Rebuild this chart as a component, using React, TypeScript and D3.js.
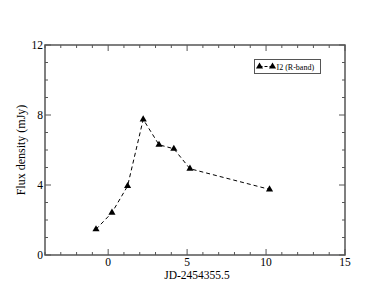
import React, { useEffect, useRef } from 'react';
import * as d3 from 'd3';

const jd = [-0.77, 0.24, 1.23, 2.22, 3.22, 4.16, 5.18, 10.22];
const flux = [1.47, 2.42, 3.94, 7.75, 6.3, 6.07, 4.93, 3.75];
const xTicks = [0, 5, 10, 15];
const yTicks = [0, 4, 8, 12];
const seriesName = 'I2 (R-band)';

export default function App() {
  const ref = useRef<SVGSVGElement>(null);

  useEffect(() => {
    const svg = d3.select(ref.current);
    svg.selectAll('*').remove();

    const left = 45, right = 345, top = 45, bottom = 255;
    const x = d3.scaleLinear().domain([-4, 15]).range([left, right]);
    const y = d3.scaleLinear().domain([0, 12]).range([bottom, top]);
    const frame = '#555';

    const g = svg.append('g').style('font-family', "'Times New Roman', 'Liberation Serif', serif");

    // minor + major ticks, inward on all four sides
    d3.range(-4, 16).forEach(v => {
      const len = v % 5 === 0 ? 6 : 3;
      g.append('line').attr('x1', x(v)).attr('x2', x(v)).attr('y1', bottom).attr('y2', bottom - len)
        .attr('stroke', frame).attr('stroke-width', 1);
      g.append('line').attr('x1', x(v)).attr('x2', x(v)).attr('y1', top).attr('y2', top + len)
        .attr('stroke', frame).attr('stroke-width', 1);
    });
    d3.range(0, 13).forEach(v => {
      const len = v % 4 === 0 ? 6 : 3;
      g.append('line').attr('y1', y(v)).attr('y2', y(v)).attr('x1', left).attr('x2', left + len)
        .attr('stroke', frame).attr('stroke-width', 1);
      g.append('line').attr('y1', y(v)).attr('y2', y(v)).attr('x1', right).attr('x2', right - len)
        .attr('stroke', frame).attr('stroke-width', 1);
    });

    g.append('rect').attr('x', left).attr('y', top).attr('width', right - left).attr('height', bottom - top)
      .attr('fill', 'none').attr('stroke', frame).attr('stroke-width', 1.5);

    g.selectAll('.xl').data(xTicks).enter().append('text')
      .attr('x', d => x(d)).attr('y', bottom + 11).attr('text-anchor', 'middle')
      .attr('font-size', 11.5).text(d => d);
    g.selectAll('.yl').data(yTicks).enter().append('text')
      .attr('x', left - 2).attr('y', d => y(d) + 4).attr('text-anchor', 'end')
      .attr('font-size', 11.5).text(d => d);

    g.append('text').attr('x', (left + right) / 2 + 2).attr('y', bottom + 24).attr('text-anchor', 'middle')
      .attr('font-size', 11.5).text('JD-2454355.5');
    g.append('text').attr('transform', `translate(25,${(top + bottom) / 2}) rotate(-90)`)
      .attr('text-anchor', 'middle').attr('font-size', 12)
      .text('Flux density (mJy)');

    const pts = jd.map((d, i) => [d, flux[i]] as [number, number]);
    const line = d3.line<[number, number]>().x(d => x(d[0])).y(d => y(d[1]));
    g.append('path').attr('d', line(pts)).attr('fill', 'none').attr('stroke', '#000')
      .attr('stroke-width', 1).attr('stroke-dasharray', '4,3');

    const tri = d3.symbol().type(d3.symbolTriangle).size(22);
    g.selectAll('.pt').data(pts).enter().append('path')
      .attr('d', tri).attr('transform', d => `translate(${x(d[0])},${y(d[1])})`).attr('fill', '#000');

    // legend
    const lx = 254.5, ly = 59.5;
    g.append('rect').attr('x', lx).attr('y', ly).attr('width', 66).attr('height', 14)
      .attr('fill', '#fff').attr('stroke', frame).attr('stroke-width', 1);
    g.append('line').attr('x1', lx + 5).attr('x2', lx + 18).attr('y1', ly + 7).attr('y2', ly + 7)
      .attr('stroke', '#000').attr('stroke-dasharray', '3,2');
    [lx + 5, lx + 18].forEach(px => {
      g.append('path').attr('d', tri).attr('transform', `translate(${px},${ly + 7})`).attr('fill', '#000');
    });
    g.append('text').attr('x', lx + 22).attr('y', ly + 10).attr('font-size', 8)
      .text(seriesName);
  }, []);

  return <svg ref={ref} width={388} height={300} style={{ position: 'absolute', left: 0, top: 0 }} />;
}
